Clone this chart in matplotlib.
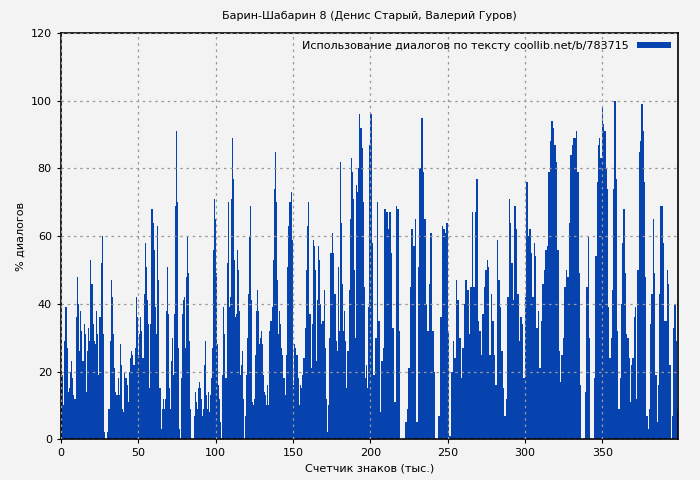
import matplotlib
matplotlib.use("Agg")
import matplotlib.pyplot as plt
import numpy as np

TITLE = "Барин-Шабарин 8 (Денис Старый, Валерий Гуров)"
LEGEND = "Использование диалогов по тексту coollib.net/b/783715"
BAR_COLOR = "#0743ae"

# thousand-character ranges covered by each run of readings
SEG_EDGES = [0, 66.6, 133.3, 199.9, 266.5, 333.0, 399.0]

seg1 = [19, 19, 10, 29, 39, 27, 14, 15, 20, 23, 18, 13, 12, 36, 48, 40, 26, 38, 32, 23,
        34, 31, 14, 26, 33, 29, 53, 46, 34, 29, 28, 38, 31, 19, 36, 52, 60, 31, 2, 0,
        0, 2, 9, 29, 47, 42, 31, 21, 14, 13, 18, 13, 28, 22, 9, 8, 20, 18, 16, 11,
        20, 24, 26, 25, 22, 27, 42, 36, 25, 31, 36, 32, 24, 43, 58, 51, 41, 34, 15, 34,
        68, 64, 56, 39, 31, 63, 47, 15, 3, 9, 12]
seg2 = [9, 12, 38, 51, 37, 15, 9, 23, 30, 19, 37, 69, 91, 70, 27, 3, 0, 18, 37, 41,
        42, 27, 48, 60, 49, 29, 9, 0, 0, 0, 7, 14, 11, 9, 15, 17, 15, 12, 7, 9,
        22, 29, 13, 9, 14, 8, 13, 18, 27, 56, 71, 65, 49, 28, 16, 12, 5, 0, 19, 39,
        31, 18, 18, 52, 70, 39, 42, 71, 89, 77, 53, 36, 37, 56, 50, 38, 19, 22, 26, 12,
        0, 7, 19, 30, 43, 60, 69, 41, 11, 10, 12, 25, 38, 44, 38, 28, 30, 32, 28, 19,
        14, 13, 10]
seg3 = [16, 10, 32, 35, 39, 53, 74, 85, 70, 47, 31, 38, 34, 27, 25, 18, 13, 25, 51, 63,
        70, 70, 73, 59, 16, 28, 27, 25, 18, 10, 16, 15, 19, 24, 24, 33, 50, 63, 70, 37,
        21, 34, 59, 57, 50, 23, 41, 57, 53, 40, 34, 35, 44, 27, 12, 2, 10, 30, 55, 55,
        61, 55, 43, 29, 26, 51, 32, 82, 64, 46, 32, 38, 29, 15, 26, 44, 65, 83, 79, 71,
        50, 30, 75, 73, 80, 96, 92, 86, 70, 45, 18, 22, 15, 39, 87]
seg4 = [96, 58, 19, 30, 70, 35, 8, 23, 27, 68, 67, 62, 67, 55, 33, 11, 69, 68, 32, 0,
        0, 0, 5, 9, 21, 45, 62, 57, 65, 5, 51, 80, 95, 79, 65, 40, 32, 46, 61, 32,
        20, 0, 0, 7, 36, 63, 62, 61, 64, 32, 1, 20, 29, 24, 47, 41, 30, 18, 27, 40,
        47, 44, 31, 45, 67]
seg5 = [45, 67, 77, 35, 32, 25, 37, 45, 50, 53, 51, 25, 43, 35, 25, 16, 59, 47, 39, 26,
        15, 7, 12, 42, 71, 64, 52, 41, 69, 62, 43, 29, 36, 34, 18, 42, 76, 60, 62, 55,
        42, 58, 54, 33, 38, 21, 35, 46, 50, 56, 57, 79, 88, 94, 92, 87, 82, 56, 26, 17,
        25, 30, 45, 50, 48, 64, 84, 87, 89, 89]
seg6 = [91, 79, 49, 16, 0, 0, 0, 14, 45, 60, 30, 0, 0, 0, 18, 54, 76, 87, 89, 83,
        98, 93, 91, 80, 74, 39, 24, 30, 44, 74, 100, 77, 32, 9, 18, 40, 58, 68, 49, 31,
        30, 24, 11, 22, 24, 36, 39, 12, 50, 85, 88, 99, 91, 76, 48, 7, 3, 9, 34, 43,
        65, 49, 19, 5, 16, 43, 69, 69, 58, 35, 35, 50, 46, 22, 0, 7, 33, 40, 29, 9]
SEGMENTS = [seg1, seg2, seg3, seg4, seg5, seg6]

xs, hs, ws = [], [], []
for i, vals in enumerate(SEGMENTS):
    lo, hi = SEG_EDGES[i], SEG_EDGES[i + 1]
    step = (hi - lo) / len(vals)
    xs.extend(lo + step * np.arange(len(vals)))
    hs.extend(vals)
    ws.extend([step] * len(vals))

plt.rcParams["font.family"] = ["DejaVu Sans"]
plt.rcParams["font.size"] = 8

fig = plt.figure(figsize=(7, 4.8), dpi=100, facecolor="#f3f3f3")
ax = fig.add_axes([0.087, 0.085, 0.882, 0.846], facecolor="#f3f3f3")
ax.bar(xs, hs, width=ws, align="edge", color=BAR_COLOR, linewidth=0, label=LEGEND)

ax.set_xlim(0, 399)
ax.set_ylim(0, 120)
ax.set_xticks(np.arange(0, 351, 50))
ax.set_yticks(np.arange(0, 121, 20))
ax.grid(True, color="#999999", linestyle=(0, (2, 3)), linewidth=0.9)
ax.set_axisbelow(False)
for s in ax.spines.values():
    s.set_linewidth(1.2)
ax.tick_params(length=3, labelsize=8)

ax.set_title(TITLE, fontsize=8, pad=10)
ax.set_xlabel("Счетчик знаков (тыс.)", fontsize=8)
ax.set_ylabel("% диалогов", fontsize=8)
leg = ax.legend(loc="upper right", frameon=False, fontsize=8, handlelength=3,
                handleheight=0.5, markerfirst=False, borderaxespad=0.3)

fig.savefig("out.png", dpi=100, facecolor=fig.get_facecolor())
